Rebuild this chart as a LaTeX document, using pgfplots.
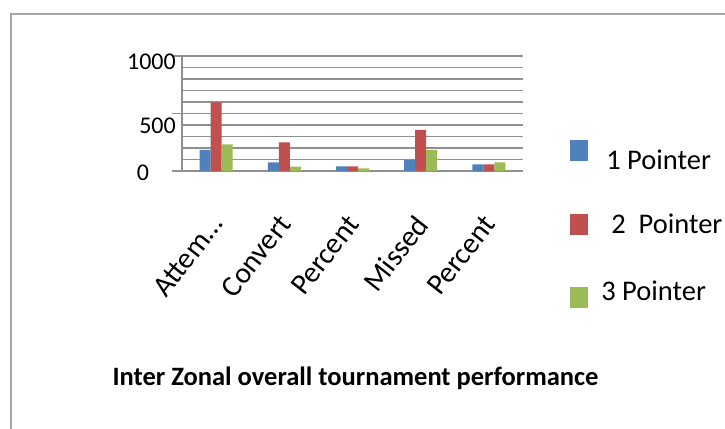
\documentclass[border=0pt]{standalone}
\usepackage{fontspec}
\setmainfont{Carlito}
\usepackage{pgfplots}
\pgfplotsset{compat=1.18}
\definecolor{xblue}{HTML}{4F81BD}
\definecolor{xred}{HTML}{C0504D}
\definecolor{xgreen}{HTML}{9BBB59}
\definecolor{gridc}{HTML}{909090}
\newcommand\tlfont{\fontsize{24bp}{28bp}\selectfont}
\newcommand\xlfont{\fontsize{29.5bp}{33bp}\selectfont}
\newcommand\lgfont{\fontsize{28.5bp}{32bp}\selectfont}
\begin{document}
\begin{tikzpicture}[x=1bp,y=1bp]
\useasboundingbox (0,0) rectangle (725,428);
\draw[color=gridc!80, line width=2bp] (11,-20) -- (11,414) -- (760,414);
\begin{axis}[
 at={(182bp,257bp)}, anchor=south west,
 scale only axis, width=341bp, height=115bp,
 xmin=-0.5, xmax=4.5, ymin=0, ymax=1000,
 axis lines*=left,
 axis line style={gridc, line width=1.3bp},
 ybar=0pt, bar width=11bp,
 xtick={0,1,2,3,4},
 xticklabels={Attem\ldots, Convert, Percent, Missed, Percent},
 xtick style={draw=none},
 xticklabel style={font=\xlfont, xshift=-7bp, yshift=-32bp, rotate=52, anchor=north east, inner sep=0pt},
 ytick={0,500,1000},
 minor ytick={100,200,300,400,600,700,800,900},
 ymajorgrids, yminorgrids,
 major grid style={gridc, line width=1.3bp},
 minor grid style={gridc, line width=1.1bp},
 ytick style={gridc, line width=1.3bp},
 tick align=outside, major tick length=10bp, minor tick length=0pt,
 yticklabels={\makebox[39bp][l]{\raisebox{-2bp}[\height][\depth]{0}}, \raisebox{-12bp}[\height][\depth]{500}, \raisebox{-6bp}[\height][\depth]{1000}},
 yticklabel style={font=\tlfont, anchor=east, inner sep=0pt, xshift=4bp},
 title={Inter Zonal overall tournament performance},
 title style={font=\bfseries\fontsize{26.5bp}{30bp}\selectfont, at={(axis description cs:0.509,-1.852)}, anchor=center},
 legend image code/.code={\fill[#1] (0bp,-10bp) rectangle (18bp,11bp);},
 legend style={draw=none, fill=none, at={(axis description cs:1.138,0.27)}, anchor=north west, inner sep=0pt, row sep=52bp, font=\lgfont, legend cell align=left, nodes={inner sep=0pt}},
]
\addplot[fill=xblue, draw=none] coordinates {(0,183) (1,75) (2,41) (3,96) (4,58)};
\addplot[fill=xred, draw=none] coordinates {(0,597) (1,249) (2,41) (3,357) (4,58)};
\addplot[fill=xgreen, draw=none] coordinates {(0,232) (1,38) (2,23) (3,183) (4,75)};
\addlegendentry{\hspace*{18bp}\raisebox{-9bp}[\height][\depth]{1 Pointer}}
\addlegendentry{\hspace*{23bp}2\ \ Pointer}
\addlegendentry{\hspace*{13bp}\raisebox{7bp}[\height][\depth]{3 Pointer}}
\end{axis}
\end{tikzpicture}
\end{document}
